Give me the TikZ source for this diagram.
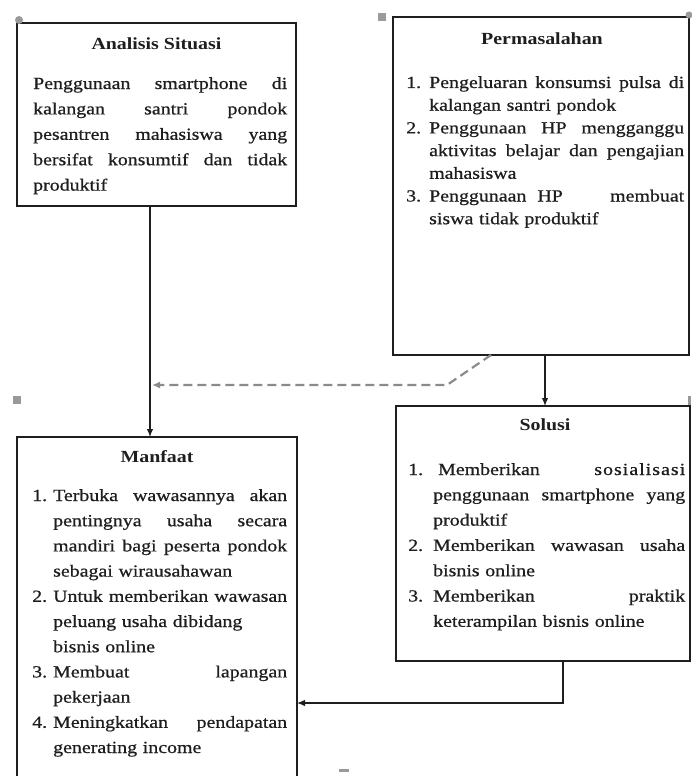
\documentclass[tikz,border=0pt]{standalone}
\usepackage{fontspec}
\setmainfont{Liberation Serif}[FakeStretch=1.17, UprightFeatures={FakeBold=0.7}]
\usetikzlibrary{arrows.meta,calc}
\definecolor{ink}{HTML}{1E1E1E}
\definecolor{hnd}{HTML}{9A9A9A}
\newlength\ind
\newcommand\bxl[3]{\noindent\hbox to \ind{#1\hfil}%
  \ifx s#2\hbox to \dimexpr\linewidth-\ind\relax{\spaceskip=\fontdimen2\font plus 1fil\relax #3}%
  \else\hbox to \dimexpr\linewidth-\ind\relax{#3\hfil}\fi\par}
\tikzset{
  box/.style={draw=ink, line width=1.4pt, inner sep=0pt, outer sep=0pt, anchor=north west},
  ttl/.style={font=\bfseries\fontsize{17}{20}\selectfont, anchor=base, inner sep=0pt, text=ink},
  body/.style={anchor=base west, inner sep=0pt, text=ink},
  arr/.style={draw=ink, line width=1.3pt, -{Latex[length=8pt,width=6.5pt]}},
  dsh/.style={draw=hnd!90!black, line width=2.2pt, dash pattern=on 9pt off 5pt, -{Latex[length=8pt,width=7pt]}},
  handle/.style={fill=hnd, draw=none}
}
\begin{document}
\begin{tikzpicture}[x=1pt,y=-1pt]
\useasboundingbox (0,0) rectangle (691,776);
% boxes
\node[box, minimum width=279pt, minimum height=183pt] (analisis) at (17,23) {};
\node[box, minimum width=296pt, minimum height=338pt] (masalah) at (393,17) {};
\node[box, minimum width=294pt, minimum height=255pt] (solusi) at (396,406) {};
\node[box, minimum width=280pt, minimum height=360pt] (manfaat) at (17,437) {};
% titles
\node[ttl] (t1) at (156.5,50) {Analisis Situasi};
\node[ttl] (t2) at (542,45) {Permasalahan};
\node[ttl] (t3) at (545,430) {Solusi};
\node[ttl] (t4) at (157,462) {Manfaat};
% bodies
\node[body, text width=254pt, font=\fontsize{17}{25.4}\selectfont] (b1) at (33,89) {%
\setlength\ind{0pt}%
\bxl{}{s}{Penggunaan smartphone di}
\bxl{}{s}{kalangan santri pondok}
\bxl{}{s}{pesantren mahasiswa yang}
\bxl{}{s}{bersifat konsumtif dan tidak}
\bxl{}{l}{produktif}};
\node[body, text width=278pt, font=\fontsize{17}{22.7}\selectfont] (b2) at (406,88) {%
\setlength\ind{23pt}%
\bxl{1.}{s}{Pengeluaran konsumsi pulsa di}
\bxl{}{l}{kalangan santri pondok}
\bxl{2.}{s}{Penggunaan HP mengganggu}
\bxl{}{s}{aktivitas belajar dan pengajian}
\bxl{}{l}{mahasiswa}
\bxl{3.}{l}{Penggunaan\hspace{11pt}HP\hfill membuat}
\bxl{}{l}{siswa tidak produktif}};
\node[body, text width=277pt, font=\fontsize{17}{25.3}\selectfont] (b3) at (408,475) {%
\setlength\ind{25pt}%
\bxl{1.}{l}{\hspace{5pt}Memberikan\hfill{\addfontfeature{LetterSpace=6}sosialisasi}}
\bxl{}{s}{penggunaan smartphone yang}
\bxl{}{l}{produktif}
\bxl{2.}{s}{Memberikan wawasan usaha}
\bxl{}{l}{bisnis online}
\bxl{3.}{s}{Memberikan praktik}
\bxl{}{l}{keterampilan bisnis online}};
\node[body, text width=255pt, font=\fontsize{17}{25.2}\selectfont] (b4) at (32,501) {%
\setlength\ind{21pt}%
\bxl{1.}{s}{Terbuka wawasannya akan}
\bxl{}{s}{pentingnya usaha secara}
\bxl{}{s}{mandiri bagi peserta pondok}
\bxl{}{l}{sebagai wirausahawan}
\bxl{2.}{s}{Untuk memberikan wawasan}
\bxl{}{l}{peluang usaha dibidang}
\bxl{}{l}{bisnis online}
\bxl{3.}{s}{Membuat lapangan}
\bxl{}{l}{pekerjaan}
\bxl{4.}{s}{Meningkatkan pendapatan}
\bxl{}{l}{generating income}};
% connectors
\coordinate (bend) at (447,385);
\coordinate (dtip) at (152,385);
\draw[arr] ([xshift=133pt]analisis.south west) -- ([xshift=133pt]manfaat.north west);
\draw[dsh] ([xshift=98pt]masalah.south west) -- (bend) -- (dtip);
\draw[arr] ([xshift=152pt]masalah.south west) -- ([xshift=152pt]masalah.south west |- solusi.north);
\draw[arr] ([xshift=167pt]solusi.south west) |- ([yshift=-266pt]manfaat.north east);
% selection handles
\fill[handle] (19,20) circle (4pt);
\fill[handle] (378,13) rectangle (386,21);
\fill[handle] (689,15) circle (3.5pt);
\fill[handle] (13,396) rectangle (21,404);
\fill[handle] (688,396) rectangle (691,405);
\fill[handle] (339,769) rectangle (349,772);
\end{tikzpicture}
\end{document}
